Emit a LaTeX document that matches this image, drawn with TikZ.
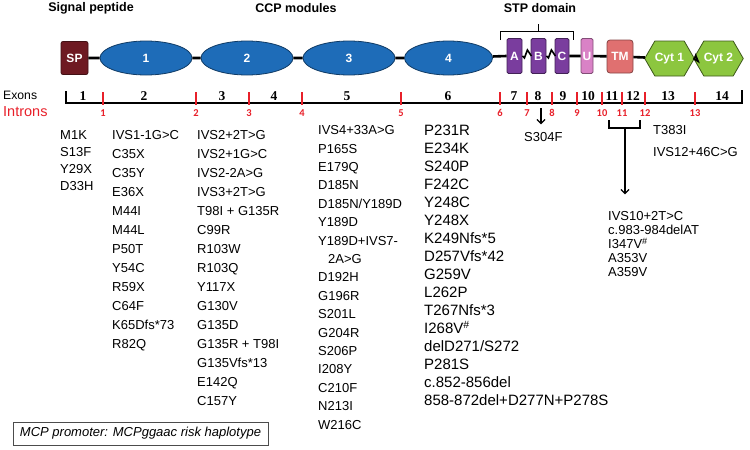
\documentclass[tikz,border=0pt]{standalone}
\usepackage{fontspec}
\setmainfont{Liberation Sans}
\newfontfamily\exonfont{Liberation Serif}
\newfontfamily\intronfont{Carlito}
\usetikzlibrary{shapes.geometric,shapes.symbols,arrows.meta}
\definecolor{spred}{HTML}{6E1A22}
\definecolor{ccpblue}{HTML}{1E6CB8}
\definecolor{stppurple}{HTML}{7A3D9E}
\definecolor{upink}{HTML}{D982C6}
\definecolor{tmred}{HTML}{E07070}
\definecolor{cytgreen}{HTML}{8CC63F}
\definecolor{intred}{HTML}{E8202A}
\tikzstyle{title}=[font=\fontsize{12.5}{14}\selectfont\bfseries]
\tikzstyle{dom}=[draw, line width=0.8pt, text=white, inner sep=0pt, font=\fontsize{12}{14}\selectfont\bfseries]
\tikzstyle{spbox}=[dom, rectangle, rounded corners=2pt, fill=spred, draw=spred!60!black, minimum width=27pt, minimum height=33pt]
\tikzstyle{ccp}=[dom, ellipse, fill=ccpblue, draw=ccpblue!55!black, minimum width=92pt, minimum height=34pt]
\tikzstyle{stpbox}=[dom, rectangle, rounded corners=1.5pt, fill=stppurple, draw=stppurple!55!black, minimum width=15pt, minimum height=35pt]
\tikzstyle{ubox}=[stpbox, fill=upink, draw=upink!60!black, minimum width=12pt]
\tikzstyle{tmbox}=[dom, rectangle, rounded corners=3pt, fill=tmred, draw=tmred!60!black, minimum width=26pt, minimum height=33pt]
\tikzstyle{cyt}=[dom, signal, signal to=east and west, signal pointer angle=120, fill=cytgreen, draw=cytgreen!45!black, minimum width=46pt, minimum height=35pt]
\tikzstyle{backbone}=[line width=2.6pt]
\tikzstyle{ruler}=[line width=2.2pt]
\tikzstyle{intron}=[intred, line width=1.6pt]
\tikzstyle{intnum}=[text=intred, inner sep=0pt, font=\intronfont\fontsize{10.5}{12}\selectfont\bfseries]
\tikzstyle{exnum}=[inner sep=0pt, font=\exonfont\fontsize{13.5}{15}\selectfont\bfseries]
\tikzstyle{mut}=[anchor=north west, inner sep=0pt, align=left, font=\fontsize{13}{19}\selectfont]
\tikzstyle{pointer}=[-{Straight Barb[length=4pt,width=8pt]}, line width=1.2pt]

\begin{document}
\begin{tikzpicture}[x=1pt, y=-1pt, line join=miter]
	\useasboundingbox (0,0) rectangle (750,450);
	\node[title] (tsp) at (91,8) {Signal peptide};
	\node[title] (tccp) at (296,8) {CCP modules};
	\node[title] (tstp) at (540,8) {STP domain};
	\node[spbox] (sp) at (74.5,58) {SP};
	\node[ccp] (c1) at (146,58) {1};
	\node[ccp] (c2) at (247,58) {2};
	\node[ccp] (c3) at (349,58) {3};
	\node[ccp, minimum width=88pt] (c4) at (448.5,58) {4};
	\node[stpbox] (sa) at (514.5,56) {A};
	\node[stpbox] (sb) at (538.5,56) {B};
	\node[stpbox, minimum width=14pt] (sc) at (562,56) {C};
	\node[ubox] (u) at (587,56) {U};
	\node[tmbox] (tm) at (620,56.5) {TM};
	\node[cyt] (cy1) at (669.5,58.5) {Cyt 1};
	\node[cyt] (cy2) at (718.5,58.5) {Cyt 2};
	\draw[backbone] (sp) -- (c1) -- (c2) -- (c3) -- (c4) -- (sa.west);
	\draw[backbone] (sc.east) -- (u) -- (tm) -- (cy1);
	\draw[line width=1.6pt] (sa.east) -- ++(2,2) -- ++(3,-8) -- ++(4,6);
	\draw[line width=1.6pt] (sb.east) -- ++(2,2) -- ++(3,-8) -- ++(4,6);
	\draw[line width=1.6pt] (cy1.east) -- ++(1,-3) -- ++(2.5,6) -- (cy2.west);
	\draw[line width=0.8pt] (500,40) -- (500,31) -- (573,31) -- (573,40);
	\draw[line width=0.8pt] (538,31) -- (538,24);
	\node[anchor=west, inner sep=0pt, font=\fontsize{12.2}{14}\selectfont] (exons) at (3,95) {Exons};
	\node[anchor=west, inner sep=0pt, text=intred, font=\fontsize{14.5}{16}\selectfont] (introns) at (3,112) {Introns};
	\draw[ruler] (66,91) -- (66,103) -- (742,103) -- (742,90);
	\draw[intron] (103,92) -- (103,105);
	\draw[intron] (196,92) -- (196,105);
	\draw[intron] (249,92) -- (249,105);
	\draw[intron] (302,92) -- (302,105);
	\draw[intron] (401,92) -- (401,105);
	\draw[intron] (500,92) -- (500,105);
	\draw[intron] (527,92) -- (527,105);
	\draw[intron] (552,92) -- (552,105);
	\draw[intron] (577,92) -- (577,105);
	\draw[intron] (602,92) -- (602,105);
	\draw[intron] (622,92) -- (622,105);
	\draw[intron] (645,92) -- (645,105);
	\draw[intron] (695,92) -- (695,105);
	\node[intnum] (i1) at (103,113) {1};
	\node[intnum] (i2) at (196,113) {2};
	\node[intnum] (i3) at (249,113) {3};
	\node[intnum] (i4) at (302,113) {4};
	\node[intnum] (i5) at (401,113) {5};
	\node[intnum] (i6) at (500,113) {6};
	\node[intnum] (i7) at (527,113) {7};
	\node[intnum] (i8) at (552,113) {8};
	\node[intnum] (i9) at (577,113) {9};
	\node[intnum] (i10) at (602,113) {10};
	\node[intnum] (i11) at (622,113) {11};
	\node[intnum] (i12) at (645,113) {12};
	\node[intnum] (i13) at (695,113) {13};
	\node[exnum] (e1) at (83,96.5) {1};
	\node[exnum] (e2) at (144,96.5) {2};
	\node[exnum] (e3) at (222,96.5) {3};
	\node[exnum] (e4) at (274,96.5) {4};
	\node[exnum] (e5) at (347,96.5) {5};
	\node[exnum] (e6) at (448,96.5) {6};
	\node[exnum] (e7) at (514,96.5) {7};
	\node[exnum] (e8) at (538,96.5) {8};
	\node[exnum] (e9) at (563,96.5) {9};
	\node[exnum] (e10) at (588,96.5) {10};
	\node[exnum] (e11) at (612,96.5) {11};
	\node[exnum] (e12) at (633,96.5) {12};
	\node[exnum] (e13) at (668,96.5) {13};
	\node[exnum] (e14) at (722,96.5) {14};
	\node[mut, font=\fontsize{13}{17}\selectfont] (m1) at (60,130.3) {M1K\\S13F\\Y29X\\D33H};
	\node[mut] (m2) at (112,130.3) {IVS1-1G>C\\C35X\\C35Y\\E36X\\M44I\\M44L\\P50T\\Y54C\\R59X\\C64F\\K65Dfs*73\\R82Q};
	\node[mut] (m3) at (197,130.3) {IVS2+2T>G\\IVS2+1G>C\\IVS2-2A>G\\IVS3+2T>G\\T98I + G135R\\C99R\\R103W\\R103Q\\Y117X\\G130V\\G135D\\G135R + T98I\\G135Vfs*13\\E142Q\\C157Y};
	\node[mut, font=\fontsize{13}{18.4}\selectfont] (m4) at (318,125.5) {IVS4+33A>G\\P165S\\E179Q\\D185N\\D185N/Y189D\\Y189D\\Y189D+IVS7-\\\hspace*{10pt}2A>G\\D192H\\G196R\\S201L\\G204R\\S206P\\I208Y\\C210F\\N213I\\W216C};
	\node[mut, font=\fontsize{15}{18}\selectfont] (m5) at (424,124.6) {P231R\\E234K\\S240P\\F242C\\Y248C\\Y248X\\K249Nfs*5\\D257Vfs*42\\G259V\\L262P\\T267Nfs*3\\I268V\textsuperscript{\#}\\delD271/S272\\P281S\\c.852-856del\\858-872del+D277N+P278S};
	\node[mut] (s304f) at (524,132.3) {S304F};
	\coordinate (ex8) at (541,108);
	\draw[pointer, shorten >=8pt] (ex8) -- (ex8 |- s304f.north);
	\node[mut, font=\fontsize{13}{22}\selectfont] (m13) at (653,125.3) {T383I\\IVS12+46C>G};
	\node[mut, font=\fontsize{13}{14}\selectfont] (m11) at (608,211.3) {IVS10+2T>C\\c.983-984delAT\\I347V\textsuperscript{\#}\\A353V\\A359V};
	\draw[line width=1.2pt] (609,120) -- (609,128) -- (640,128) -- (640,120);
	\coordinate (brk) at (625,128);
	\draw[pointer, shorten >=17pt] (brk) -- (brk |- m11.north);
	\node[draw=black!70, line width=0.8pt, minimum width=255pt, minimum height=23pt, inner sep=0pt, font=\fontsize{13}{15}\selectfont\itshape] (prom) at (140.5,433.5) {MCP promoter: MCPggaac risk haplotype};
\end{tikzpicture}
\end{document}
